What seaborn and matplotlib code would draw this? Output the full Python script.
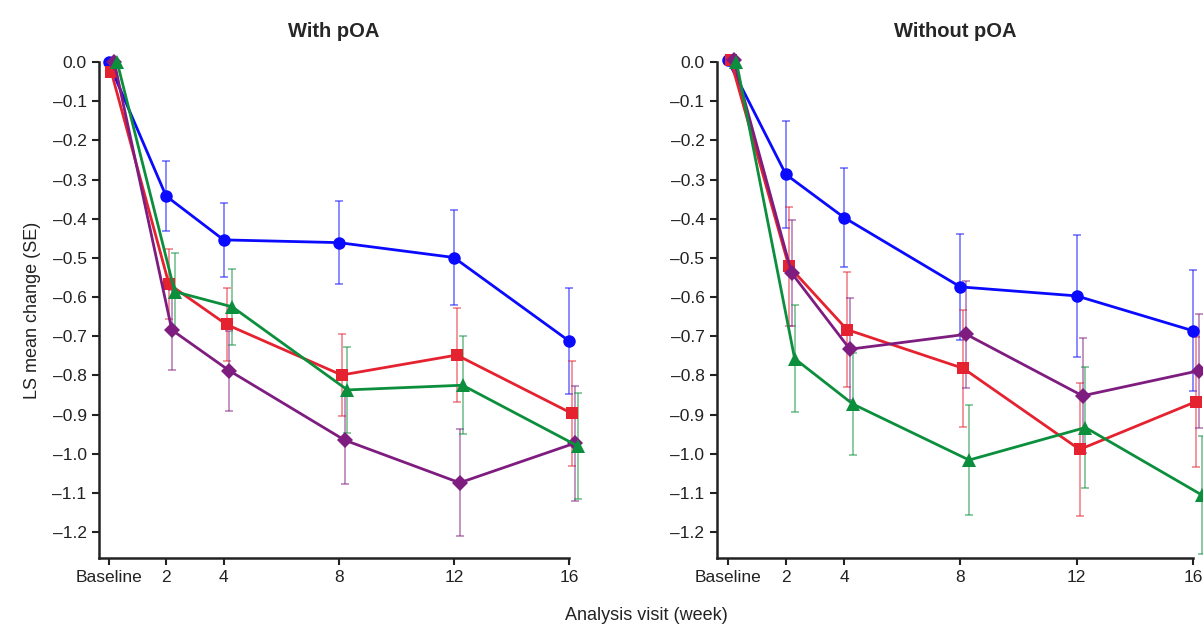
import numpy as np
import pandas as pd
import matplotlib
matplotlib.use('Agg')
import matplotlib.pyplot as plt
import seaborn as sns

# ===============================
# Data
# ===============================
weeks = [0, 2, 4, 8, 12, 16]
week_labels = ['Baseline', '2', '4', '8', '12', '16']
arms = ['Arm 1', 'Arm 2', 'Arm 3', 'Arm 4']
panels = ['With pOA', 'Without pOA']

# With pOA
with_arm1 = [0.0, -0.342, -0.454, -0.461, -0.499, -0.712]
with_arm1_se = [0.0, 0.090, 0.095, 0.106, 0.121, 0.136]
with_arm2 = [-0.026, -0.567, -0.670, -0.799, -0.748, -0.897]
with_arm2_se = [0.0, 0.090, 0.092, 0.105, 0.120, 0.133]
with_arm3 = [0.0, -0.684, -0.788, -0.965, -1.074, -0.973]
with_arm3_se = [0.0, 0.102, 0.102, 0.112, 0.137, 0.147]
with_arm4 = [0.0, -0.586, -0.625, -0.837, -0.825, -0.980]
with_arm4_se = [0.0, 0.098, 0.097, 0.109, 0.125, 0.135]

# Without pOA
without_arm1 = [0.005, -0.287, -0.397, -0.574, -0.597, -0.686]
without_arm1_se = [0.0, 0.136, 0.127, 0.136, 0.155, 0.154]
without_arm2 = [0.005, -0.521, -0.683, -0.782, -0.989, -0.867]
without_arm2_se = [0.0, 0.152, 0.147, 0.150, 0.169, 0.166]
without_arm3 = [0.005, -0.539, -0.733, -0.695, -0.852, -0.788]
without_arm3_se = [0.0, 0.135, 0.131, 0.136, 0.147, 0.145]
without_arm4 = [0.0, -0.757, -0.873, -1.016, -0.933, -1.105]
without_arm4_se = [0.0, 0.136, 0.130, 0.140, 0.155, 0.150]

values = {
    'With pOA': [with_arm1, with_arm2, with_arm3, with_arm4],
    'Without pOA': [without_arm1, without_arm2, without_arm3, without_arm4],
}
errors = {
    'With pOA': [with_arm1_se, with_arm2_se, with_arm3_se, with_arm4_se],
    'Without pOA': [without_arm1_se, without_arm2_se, without_arm3_se, without_arm4_se],
}

# long table
rows = []
for p in panels:
    for i, a in enumerate(arms):
        for w, v, e in zip(weeks, values[p][i], errors[p][i]):
            rows.append({'panel': p, 'arm': a, 'week': w, 'value': v, 'se': e})
df = pd.DataFrame(rows)

# ===============================
# Style
# ===============================
colors = {'Arm 1': '#0a0aff', 'Arm 2': '#e5222f', 'Arm 3': '#7e1c80', 'Arm 4': '#0b8f3d'}
markers = {'Arm 1': 'o', 'Arm 2': 's', 'Arm 3': 'D', 'Arm 4': '^'}
msizes = {'Arm 1': 9, 'Arm 2': 9, 'Arm 3': 8, 'Arm 4': 10}
dodge = {'Arm 1': 0.0, 'Arm 2': 0.1, 'Arm 3': 0.2, 'Arm 4': 0.3}
df['x'] = df['week'] + df['arm'].map(dodge)

sns.set_style('ticks')
plt.rcParams['font.family'] = ['Liberation Sans', 'DejaVu Sans']

fig = plt.figure(figsize=(12.03, 6.29), dpi=100)
ax_pos = {'With pOA': [0.0823, 0.1129, 0.3907, 0.7885],
          'Without pOA': [0.5960, 0.1129, 0.3957, 0.7885]}
xlims = {'With pOA': (-0.33, 16), 'Without pOA': (-0.37, 16)}


def fmt_minus(v, pos):
    s = f'{v:.1f}'
    return s.replace('-', '\u2013')


for p in panels:
    ax = fig.add_axes(ax_pos[p])
    sub = df[df['panel'] == p]
    for a in arms:
        d = sub[(sub['arm'] == a) & (sub['se'] > 0)]
        ax.errorbar(d['x'], d['value'], yerr=d['se'], fmt='none',
                    ecolor=colors[a], elinewidth=1.1, capsize=3, capthick=1.1,
                    alpha=0.6, clip_on=False, zorder=2)
    for a in arms:
        d = sub[sub['arm'] == a]
        sns.lineplot(data=d, x='x', y='value', ax=ax, color=colors[a],
                     marker=markers[a], markersize=msizes[a], markeredgewidth=0,
                     linewidth=2, errorbar=None, sort=False, clip_on=False, zorder=3)
    ax.set_xlim(*xlims[p])
    ax.set_ylim(-1.266, 0.0)
    ax.set_xticks(weeks)
    ax.set_xticklabels(week_labels)
    ax.set_yticks(np.round(np.arange(0, -1.21, -0.1), 1))
    ax.yaxis.set_major_formatter(matplotlib.ticker.FuncFormatter(fmt_minus))
    ax.tick_params(axis='both', labelsize=12.5, length=5, width=1.5,
                   colors='#222222', labelcolor='#222222', pad=4)
    for s in ['left', 'bottom']:
        ax.spines[s].set_linewidth(1.8)
        ax.spines[s].set_color('#222222')
    sns.despine(ax=ax)
    ax.set_xlabel('')
    ax.set_ylabel('')
    ax.set_title(p, fontsize=14.5, fontweight='bold', pad=18)
    if p == 'With pOA':
        ax.set_ylabel('LS mean change (SE)', fontsize=13, color='#222222', labelpad=8)

fig.text(0.537, 0.015, 'Analysis visit (week)', fontsize=13, color='#222222', ha='center')

plt.savefig('out.png', dpi=100)
